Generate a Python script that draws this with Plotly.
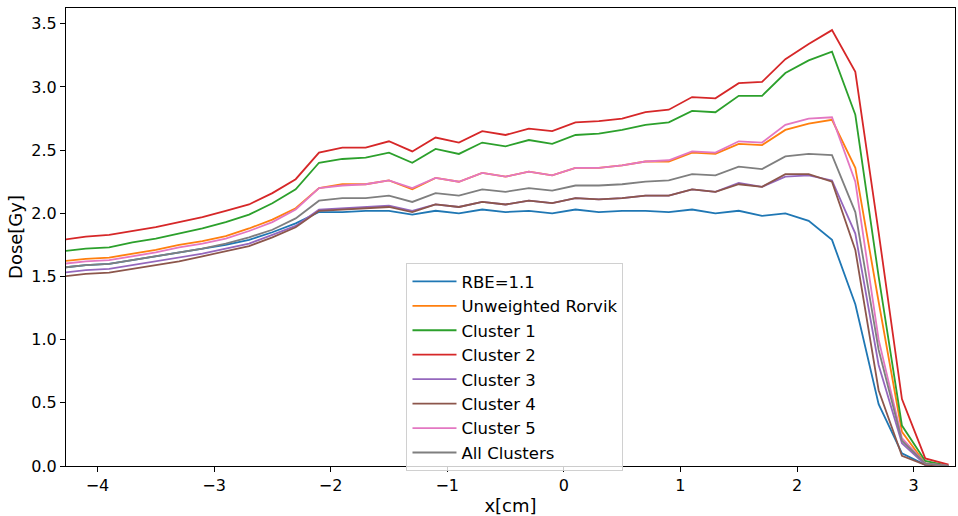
import numpy as np
import plotly.graph_objects as go

# depth positions [cm]
x_cm = [-4.3, -4.1, -3.9, -3.7, -3.5, -3.3, -3.1, -2.9, -2.7, -2.5, -2.3, -2.1,
        -1.9, -1.7, -1.5, -1.3, -1.1, -0.9, -0.7, -0.5, -0.3, -0.1, 0.1, 0.3,
        0.5, 0.7, 0.9, 1.1, 1.3, 1.5, 1.7, 1.9, 2.1, 2.3, 2.5, 2.7, 2.9, 3.1, 3.3]

rbe_11 = [1.57, 1.59, 1.60, 1.63, 1.66, 1.69, 1.72, 1.75, 1.79, 1.85, 1.92, 2.01,
          2.01, 2.02, 2.02, 1.99, 2.02, 2.00, 2.03, 2.01, 2.02, 2.00, 2.03, 2.01,
          2.02, 2.02, 2.01, 2.03, 2.00, 2.02, 1.98, 2.00, 1.94, 1.79, 1.28, 0.49,
          0.10, 0.01, 0.00]
unweighted_rorvik = [1.62, 1.64, 1.65, 1.68, 1.71, 1.75, 1.78, 1.82, 1.88, 1.95, 2.04, 2.20,
                     2.23, 2.23, 2.26, 2.19, 2.28, 2.25, 2.32, 2.29, 2.33, 2.30, 2.36, 2.36,
                     2.38, 2.41, 2.41, 2.48, 2.47, 2.55, 2.54, 2.66, 2.71, 2.74, 2.36, 1.30,
                     0.27, 0.02, 0.00]
cluster_1 = [1.70, 1.72, 1.73, 1.77, 1.80, 1.84, 1.88, 1.93, 1.99, 2.08, 2.19, 2.40,
             2.43, 2.44, 2.48, 2.40, 2.51, 2.47, 2.56, 2.53, 2.58, 2.55, 2.62, 2.63,
             2.66, 2.70, 2.72, 2.81, 2.80, 2.93, 2.93, 3.11, 3.21, 3.28, 2.78, 1.50,
             0.32, 0.04, 0.00]
cluster_2 = [1.79, 1.815, 1.83, 1.86, 1.89, 1.93, 1.97, 2.02, 2.07, 2.16, 2.27, 2.48,
             2.52, 2.52, 2.57, 2.49, 2.60, 2.56, 2.65, 2.62, 2.67, 2.65, 2.72, 2.73,
             2.75, 2.80, 2.82, 2.92, 2.91, 3.03, 3.04, 3.22, 3.34, 3.45, 3.12, 1.85,
             0.53, 0.06, 0.01]
cluster_3 = [1.53, 1.55, 1.56, 1.59, 1.62, 1.65, 1.68, 1.72, 1.76, 1.83, 1.90, 2.03,
             2.04, 2.05, 2.06, 2.02, 2.07, 2.05, 2.09, 2.07, 2.10, 2.08, 2.12, 2.11,
             2.12, 2.14, 2.14, 2.19, 2.17, 2.24, 2.21, 2.29, 2.30, 2.26, 1.84, 0.80,
             0.18, 0.01, 0.00]
cluster_4 = [1.50, 1.52, 1.53, 1.56, 1.59, 1.62, 1.66, 1.70, 1.74, 1.81, 1.89, 2.02,
             2.03, 2.04, 2.05, 2.01, 2.07, 2.05, 2.09, 2.07, 2.10, 2.08, 2.12, 2.11,
             2.12, 2.14, 2.14, 2.19, 2.17, 2.23, 2.21, 2.31, 2.31, 2.25, 1.71, 0.60,
             0.08, 0.01, 0.00]
cluster_5 = [1.60, 1.62, 1.63, 1.66, 1.69, 1.73, 1.76, 1.80, 1.86, 1.93, 2.03, 2.20,
             2.22, 2.23, 2.26, 2.20, 2.28, 2.25, 2.32, 2.29, 2.33, 2.30, 2.36, 2.36,
             2.38, 2.41, 2.42, 2.49, 2.48, 2.57, 2.56, 2.70, 2.75, 2.76, 2.25, 1.00,
             0.22, 0.02, 0.00]
all_clusters = [1.57, 1.59, 1.60, 1.63, 1.66, 1.69, 1.72, 1.76, 1.81, 1.87, 1.96, 2.10,
                2.12, 2.12, 2.14, 2.09, 2.16, 2.14, 2.19, 2.17, 2.20, 2.18, 2.22, 2.22,
                2.23, 2.25, 2.26, 2.31, 2.30, 2.37, 2.35, 2.45, 2.47, 2.46, 2.01, 0.92,
                0.20, 0.02, 0.00]

series_names = ["RBE=1.1", "Unweighted Rorvik", "Cluster 1", "Cluster 2",
                "Cluster 3", "Cluster 4", "Cluster 5", "All Clusters"]
series_values = [rbe_11, unweighted_rorvik, cluster_1, cluster_2,
                 cluster_3, cluster_4, cluster_5, all_clusters]
colors = ["#1f77b4", "#ff7f0e", "#2ca02c", "#d62728",
          "#9467bd", "#8c564b", "#e377c2", "#7f7f7f"]

fig = go.Figure()
for name, vals, col in zip(series_names, series_values, colors):
    fig.add_trace(go.Scatter(
        x=x_cm, y=vals, mode="lines", name=name,
        line=dict(color=col, width=1.8),
    ))

font_family = "DejaVu Sans, sans-serif"
axis_common = dict(
    showline=True, linecolor="black", linewidth=1.1, mirror=True,
    showgrid=False, zeroline=False,
    ticks="outside", ticklen=5, tickwidth=1.1, tickcolor="black",
    tickfont=dict(family=font_family, size=16, color="black"),
)

fig.update_layout(
    width=958, height=516,
    margin=dict(l=66, r=2, t=8, b=47),
    paper_bgcolor="white", plot_bgcolor="white",
    font=dict(family=font_family, color="black"),
    xaxis=dict(range=[-4.27, 3.355], dtick=1, tick0=0,
               title=dict(text="x[cm]", font=dict(size=18), standoff=6),
               **axis_common),
    yaxis=dict(range=[0, 3.625], dtick=0.5, tick0=0, tickformat=".1f",
               title=dict(text="Dose[Gy]", font=dict(size=18), standoff=3),
               **axis_common),
    legend=dict(
        x=0.383, y=0.443, xanchor="left", yanchor="top",
        bgcolor="rgba(255,255,255,0.8)", bordercolor="#d0d0d0", borderwidth=1,
        font=dict(family=font_family, size=16.5, color="black"),
        traceorder="normal", itemwidth=44,
    ),
    showlegend=True,
)

fig.write_html("out.html")
